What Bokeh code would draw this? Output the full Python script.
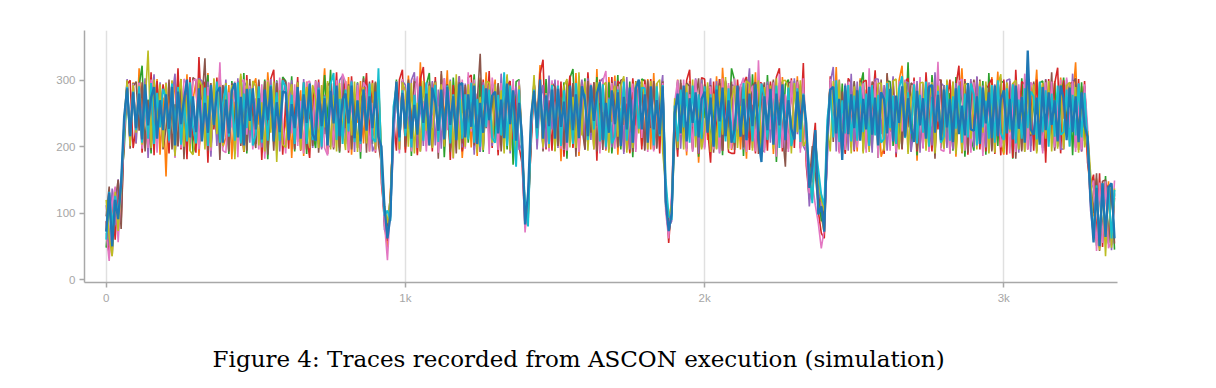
from bokeh.plotting import figure
from bokeh.layouts import column
from bokeh.models import Range1d, FixedTicker, NumeralTickFormatter
from bokeh.core.properties import value
from bokeh.embed import file_html
from bokeh.resources import INLINE

# sample index (one value every 10 samples)
samples = list(range(0, 3380, 10))

trace_orange = [
    75, 130, 52, 120, 70, 140, 215, 300, 205, 297,
    205, 318, 232, 281, 196, 265, 219, 302, 188, 274,
    155, 286, 241, 303, 207, 259, 226, 309, 194, 271,
    297, 186, 262, 224, 311, 203, 279, 237, 316, 199,
    214, 293, 181, 268, 229, 306, 192, 255, 218, 289,
    303, 233, 277, 190, 312, 246, 284, 197, 262, 210,
    236, 296, 183, 271, 207, 285, 186, 298, 242, 260,
    289, 204, 255, 318, 227, 293, 198, 274, 212, 303,
    221, 305, 188, 262, 236, 299, 205, 281, 193, 266,
    297, 230, 165, 82, 48, 131, 238, 296, 210, 301,
    196, 307, 241, 278, 190, 327, 224, 265, 202, 297,
    283, 211, 309, 236, 315, 195, 260, 222, 291, 183,
    247, 293, 199, 276, 186, 304, 233, 312, 208, 258,
    301, 192, 270, 226, 307, 212, 289, 184, 268, 196,
    92, 111, 215, 297, 238, 323, 196, 264, 212, 295,
    221, 299, 178, 280, 244, 292, 200, 311, 186, 253,
    296, 229, 267, 198, 317, 209, 281, 194, 305, 237,
    307, 188, 258, 233, 288, 190, 300, 218, 272, 201,
    232, 302, 196, 311, 214, 275, 240, 128, 84, 112,
    228, 301, 242, 269, 187, 299, 220, 284, 176, 258,
    293, 210, 276, 231, 306, 197, 319, 247, 292, 195,
    215, 286, 196, 263, 182, 306, 237, 312, 209, 279,
    290, 226, 295, 189, 272, 211, 305, 243, 287, 202,
    222, 306, 197, 281, 184, 139, 172, 201, 118, 95,
    70, 204, 298, 228, 320, 197, 270, 202, 298, 236,
    261, 193, 303, 219, 286, 208, 295, 244, 273, 185,
    199, 309, 237, 276, 196, 300, 322, 214, 268, 230,
    295, 179, 282, 247, 291, 205, 304, 193, 259, 226,
    212, 293, 236, 297, 185, 262, 318, 229, 290, 210,
    300, 223, 271, 192, 284, 196, 305, 240, 313, 206,
    188, 277, 221, 296, 213, 264, 195, 301, 234, 294,
    255, 316, 208, 283, 194, 292, 225, 299, 213, 304,
    242, 295, 201, 268, 327, 215, 291, 230, 186, 117,
    95, 152, 48, 140, 64, 148, 56, 128,
]

trace_green = [
    48, 117, 64, 131, 80, 145, 195, 283, 205, 296,
    226, 292, 322, 198, 271, 190, 301, 237, 283, 207,
    287, 214, 262, 185, 304, 231, 276, 201, 293, 189,
    208, 301, 245, 279, 308, 198, 262, 219, 295, 232,
    274, 189, 299, 226, 258, 206, 311, 190, 282, 247,
    204, 290, 235, 301, 181, 267, 216, 300, 243, 305,
    299, 228, 306, 193, 286, 244, 270, 189, 297, 221,
    198, 275, 216, 308, 239, 316, 202, 263, 191, 303,
    268, 209, 293, 240, 297, 182, 306, 225, 284, 204,
    296, 243, 181, 88, 71, 105, 219, 301, 203, 298,
    231, 298, 186, 274, 212, 297, 238, 293, 311, 200,
    298, 223, 302, 184, 269, 198, 304, 245, 280, 195,
    290, 206, 257, 309, 221, 301, 192, 277, 229, 294,
    211, 294, 236, 266, 196, 299, 173, 298, 301, 188,
    97, 84, 222, 299, 218, 276, 197, 302, 232, 289,
    194, 281, 238, 297, 182, 304, 317, 209, 265, 225,
    303, 202, 271, 223, 305, 197, 252, 207, 297, 190,
    237, 308, 196, 279, 214, 298, 184, 296, 233, 302,
    299, 219, 284, 195, 296, 228, 289, 110, 68, 97,
    210, 297, 230, 288, 197, 271, 206, 292, 185, 302,
    243, 291, 204, 262, 197, 302, 187, 299, 221, 318,
    300, 235, 290, 186, 292, 213, 309, 226, 281, 191,
    195, 308, 224, 298, 177, 267, 208, 294, 301, 213,
    299, 241, 291, 206, 199, 152, 128, 224, 141, 88,
    96, 212, 299, 233, 280, 204, 295, 191, 262, 206,
    297, 226, 290, 312, 197, 269, 200, 296, 183, 278,
    234, 299, 298, 201, 276, 199, 287, 221, 327, 193,
    301, 187, 264, 224, 289, 198, 308, 246, 296, 198,
    293, 207, 281, 194, 305, 238, 292, 185, 273, 214,
    194, 301, 242, 299, 188, 311, 222, 279, 201, 297,
    298, 216, 293, 182, 270, 195, 303, 231, 308, 201,
    276, 202, 296, 299, 193, 285, 227, 296, 200, 264,
    304, 235, 296, 187, 294, 220, 297, 209, 203, 131,
    152, 51, 138, 66, 156, 53, 144, 45,
]

trace_red = [
    88, 35, 123, 60, 138, 88, 220, 294, 300, 198,
    229, 293, 191, 264, 206, 312, 187, 299, 238, 294,
    267, 190, 299, 226, 318, 196, 273, 181, 305, 218,
    191, 335, 240, 298, 176, 293, 226, 304, 199, 258,
    296, 214, 281, 190, 299, 243, 192, 308, 226, 271,
    205, 298, 180, 273, 229, 302, 316, 201, 296, 188,
    268, 197, 296, 235, 305, 194, 257, 216, 183, 291,
    228, 301, 198, 270, 189, 296, 241, 312, 199, 277,
    299, 191, 306, 222, 283, 196, 262, 311, 215, 300,
    191, 300, 145, 95, 58, 118, 244, 194, 301, 316,
    191, 278, 226, 303, 187, 302, 320, 233, 294, 193,
    305, 218, 269, 202, 294, 180, 293, 238, 306, 193,
    230, 304, 308, 195, 264, 192, 301, 228, 314, 198,
    279, 187, 298, 241, 292, 299, 211, 274, 200, 174,
    78, 106, 199, 298, 225, 309, 331, 196, 270, 194,
    296, 223, 298, 185, 268, 307, 198, 292, 237, 298,
    196, 312, 243, 297, 179, 301, 222, 276, 196, 305,
    221, 299, 294, 192, 265, 191, 303, 232, 300, 196,
    301, 237, 302, 196, 278, 190, 299, 135, 55, 120,
    245, 185, 296, 221, 300, 316, 197, 301, 189, 304,
    302, 227, 176, 298, 214, 302, 194, 271, 192, 190,
    190, 301, 239, 296, 305, 195, 263, 190, 297, 296,
    271, 194, 298, 226, 305, 318, 193, 276, 197, 303,
    198, 297, 232, 326, 171, 121, 188, 236, 103, 70,
    62, 195, 306, 219, 295, 192, 268, 189, 303, 296,
    193, 274, 218, 298, 300, 199, 257, 315, 227, 293,
    189, 301, 224, 297, 184, 268, 196, 298, 303, 229,
    304, 193, 271, 198, 312, 243, 193, 301, 226, 301,
    198, 267, 301, 219, 291, 322, 190, 302, 188, 298,
    226, 305, 196, 281, 193, 294, 302, 189, 268, 187,
    301, 188, 299, 183, 316, 228, 298, 294, 196, 277,
    194, 301, 237, 296, 176, 302, 216, 295, 319, 190,
    300, 222, 295, 297, 198, 302, 193, 299, 176, 142,
    158, 58, 160, 49, 145, 137, 52, 123,
]

trace_purple = [
    112, 51, 137, 82, 151, 98, 236, 302, 209, 293,
    205, 297, 234, 303, 183, 270, 309, 198, 297, 224,
    291, 206, 275, 310, 200, 293, 236, 299, 204, 266,
    209, 303, 299, 228, 298, 185, 276, 201, 305, 233,
    301, 198, 257, 200, 303, 227, 298, 291, 206, 296,
    213, 296, 199, 264, 197, 302, 240, 299, 193, 275,
    298, 231, 300, 197, 265, 199, 302, 223, 292, 198,
    246, 297, 196, 278, 201, 200, 296, 229, 300, 307,
    204, 279, 300, 192, 296, 215, 299, 209, 266, 193,
    204, 298, 188, 75, 66, 98, 201, 294, 197, 299,
    293, 226, 300, 312, 198, 269, 201, 295, 227, 299,
    202, 286, 197, 303, 238, 301, 191, 272, 306, 199,
    295, 219, 297, 188, 280, 192, 297, 248, 293, 201,
    294, 203, 310, 228, 301, 190, 266, 291, 195, 205,
    88, 119, 230, 299, 196, 268, 293, 199, 307, 226,
    301, 198, 272, 195, 298, 233, 294, 199, 260, 301,
    195, 303, 210, 294, 231, 297, 303, 196, 274, 199,
    299, 227, 298, 189, 305, 196, 271, 196, 299, 294,
    196, 297, 231, 294, 199, 274, 308, 116, 79, 88,
    232, 300, 197, 279, 198, 295, 230, 303, 190, 301,
    199, 276, 303, 201, 299, 190, 261, 300, 198, 293,
    292, 215, 294, 196, 268, 318, 198, 297, 230, 295,
    198, 298, 206, 293, 226, 296, 296, 192, 270, 200,
    303, 219, 294, 201, 192, 110, 165, 178, 132, 109,
    85, 178, 296, 320, 193, 301, 226, 295, 194, 310,
    195, 298, 234, 296, 199, 268, 191, 302, 302, 219,
    293, 194, 258, 306, 190, 293, 226, 295, 297, 192,
    228, 299, 191, 295, 217, 297, 202, 312, 238, 296,
    291, 198, 269, 196, 296, 233, 301, 198, 247, 302,
    199, 306, 230, 292, 199, 276, 195, 294, 218, 303,
    198, 300, 302, 225, 299, 191, 272, 193, 296, 192,
    296, 199, 267, 194, 302, 233, 299, 198, 281, 196,
    197, 301, 224, 310, 200, 296, 193, 268, 199, 104,
    64, 149, 52, 147, 61, 137, 44, 130,
]

trace_brown = [
    95, 140, 36, 118, 150, 76, 228, 299, 197, 291,
    298, 224, 297, 193, 270, 195, 296, 233, 292, 196,
    228, 301, 196, 264, 201, 302, 181, 297, 237, 304,
    300, 196, 268, 333, 194, 296, 229, 290, 180, 293,
    266, 193, 296, 219, 296, 201, 262, 194, 302, 223,
    198, 301, 229, 299, 188, 275, 194, 296, 220, 302,
    297, 213, 274, 196, 298, 227, 297, 196, 261, 201,
    300, 191, 265, 219, 296, 290, 196, 277, 193, 295,
    228, 294, 196, 279, 198, 265, 303, 191, 298, 217,
    298, 202, 176, 104, 80, 126, 232, 293, 195, 299,
    200, 301, 227, 298, 295, 193, 266, 201, 298, 228,
    299, 182, 314, 230, 294, 192, 276, 190, 297, 205,
    293, 227, 294, 202, 266, 340, 200, 296, 218, 291,
    231, 296, 193, 262, 305, 199, 291, 219, 298, 210,
    102, 92, 207, 292, 230, 299, 193, 274, 201, 296,
    290, 201, 275, 197, 299, 222, 296, 185, 306, 231,
    196, 299, 221, 297, 193, 266, 195, 292, 223, 297,
    263, 199, 300, 302, 196, 275, 192, 299, 227, 296,
    194, 300, 228, 299, 197, 262, 298, 124, 88, 101,
    254, 195, 301, 226, 296, 291, 194, 270, 303, 199,
    294, 222, 293, 191, 264, 296, 194, 297, 229, 298,
    195, 276, 291, 199, 302, 223, 292, 297, 189, 275,
    297, 215, 269, 301, 199, 292, 223, 170, 296, 298,
    225, 300, 198, 290, 205, 145, 201, 158, 111, 128,
    92, 221, 296, 207, 291, 195, 283, 226, 300, 199,
    299, 226, 300, 193, 265, 196, 298, 292, 219, 301,
    198, 311, 222, 299, 195, 264, 197, 300, 229, 296,
    292, 195, 277, 200, 296, 224, 295, 182, 301, 300,
    215, 299, 190, 272, 192, 297, 226, 299, 191, 268,
    301, 222, 301, 197, 293, 288, 193, 269, 224, 295,
    197, 296, 226, 296, 182, 275, 193, 297, 289, 216,
    298, 193, 269, 198, 301, 226, 312, 194, 277, 290,
    199, 293, 226, 296, 303, 195, 268, 291, 212, 150,
    100, 160, 43, 148, 150, 55, 141, 54,
]

trace_pink = [
    70, 28, 116, 140, 56, 135, 213, 292, 204, 295,
    230, 296, 197, 269, 198, 301, 288, 191, 279, 201,
    297, 221, 299, 183, 276, 198, 302, 293, 216, 299,
    302, 196, 271, 215, 290, 194, 302, 227, 327, 194,
    191, 282, 229, 298, 184, 296, 301, 218, 292, 196,
    273, 196, 294, 182, 300, 227, 296, 194, 304, 237,
    190, 297, 220, 294, 201, 269, 190, 296, 299, 215,
    299, 226, 292, 198, 187, 276, 199, 300, 228, 310,
    297, 194, 270, 215, 293, 192, 297, 289, 193, 266,
    193, 295, 158, 86, 29, 113, 210, 299, 190, 302,
    221, 296, 193, 277, 306, 196, 269, 193, 291, 228,
    296, 191, 279, 303, 225, 294, 182, 298, 214, 301,
    197, 312, 223, 301, 198, 273, 198, 296, 189, 304,
    269, 195, 296, 222, 298, 196, 302, 184, 300, 182,
    71, 125, 218, 296, 228, 294, 197, 281, 193, 300,
    225, 300, 197, 268, 194, 291, 228, 296, 192, 273,
    298, 216, 295, 196, 272, 190, 299, 314, 210, 296,
    197, 291, 226, 298, 196, 269, 295, 192, 286, 213,
    294, 192, 268, 193, 296, 220, 296, 102, 62, 131,
    267, 300, 218, 301, 193, 279, 192, 301, 228, 295,
    196, 289, 290, 196, 268, 191, 303, 220, 296, 197,
    303, 226, 291, 304, 192, 277, 292, 193, 330, 218,
    191, 293, 226, 297, 185, 310, 198, 279, 192, 300,
    220, 298, 191, 303, 185, 130, 146, 112, 85, 47,
    76, 187, 302, 221, 296, 190, 267, 195, 298, 221,
    290, 199, 266, 295, 191, 318, 224, 298, 183, 295,
    227, 293, 194, 278, 192, 299, 223, 301, 192, 270,
    299, 216, 305, 197, 280, 192, 297, 229, 328, 195,
    193, 276, 190, 298, 221, 298, 302, 194, 270, 191,
    297, 220, 299, 186, 278, 191, 293, 226, 294, 199,
    225, 293, 190, 266, 192, 294, 219, 310, 196, 297,
    291, 197, 274, 190, 297, 221, 298, 199, 266, 301,
    196, 304, 228, 299, 192, 270, 196, 294, 230, 135,
    149, 43, 146, 55, 148, 47, 59, 149,
]

trace_olive = [
    120, 64, 35, 132, 73, 138, 240, 300, 201, 293,
    221, 292, 203, 264, 345, 198, 301, 226, 294, 199,
    296, 215, 300, 186, 269, 302, 200, 278, 194, 188,
    226, 301, 292, 196, 277, 199, 303, 219, 292, 201,
    296, 219, 293, 181, 271, 310, 193, 300, 225, 299,
    291, 202, 267, 193, 298, 221, 298, 177, 285, 203,
    199, 276, 294, 208, 297, 195, 262, 290, 198, 293,
    271, 198, 293, 229, 299, 196, 278, 193, 296, 230,
    195, 292, 217, 298, 192, 276, 290, 205, 271, 296,
    196, 301, 195, 112, 85, 124, 243, 298, 196, 297,
    284, 200, 296, 190, 266, 193, 299, 224, 292, 198,
    297, 213, 294, 200, 275, 299, 183, 309, 196, 272,
    200, 294, 227, 295, 191, 275, 195, 298, 297, 206,
    294, 226, 285, 190, 309, 194, 269, 191, 292, 201,
    110, 96, 240, 308, 212, 297, 199, 280, 198, 294,
    193, 279, 224, 291, 302, 199, 275, 198, 312, 217,
    298, 194, 269, 196, 297, 222, 292, 297, 191, 276,
    292, 215, 291, 306, 191, 273, 198, 298, 220, 300,
    273, 196, 299, 218, 295, 301, 192, 140, 93, 114,
    273, 198, 278, 196, 294, 222, 301, 199, 267, 196,
    225, 297, 192, 280, 196, 292, 218, 305, 196, 271,
    292, 198, 261, 218, 299, 295, 194, 276, 300, 196,
    290, 214, 292, 197, 303, 221, 299, 300, 288, 190,
    296, 222, 300, 201, 210, 158, 120, 196, 150, 120,
    103, 230, 193, 299, 221, 300, 198, 272, 287, 190,
    291, 221, 297, 190, 272, 192, 291, 227, 295, 296,
    194, 298, 225, 299, 302, 196, 261, 297, 189, 273,
    293, 210, 296, 297, 194, 271, 297, 190, 292, 229,
    197, 301, 228, 298, 189, 276, 191, 294, 295, 212,
    275, 196, 299, 221, 298, 190, 278, 191, 293, 309,
    191, 297, 223, 295, 300, 196, 268, 192, 293, 219,
    294, 190, 261, 296, 212, 299, 193, 270, 197, 294,
    196, 292, 297, 223, 290, 191, 275, 199, 224, 160,
    60, 131, 44, 142, 35, 139, 48, 137,
]

trace_cyan = [
    60, 132, 80, 126, 98, 144, 232, 290, 216, 283,
    225, 291, 206, 276, 212, 296, 204, 281, 229, 287,
    274, 209, 295, 227, 290, 203, 271, 208, 297, 230,
    205, 280, 216, 289, 201, 286, 234, 298, 206, 265,
    292, 215, 272, 209, 297, 205, 280, 228, 287, 202,
    218, 291, 206, 267, 209, 293, 234, 282, 209, 300,
    290, 221, 278, 204, 289, 229, 297, 204, 277, 210,
    230, 289, 200, 276, 216, 294, 311, 210, 272, 204,
    286, 223, 298, 207, 269, 204, 286, 228, 295, 213,
    207, 318, 170, 96, 104, 88, 260, 290, 208, 285,
    216, 286, 199, 278, 222, 289, 209, 297, 211, 270,
    293, 207, 271, 217, 292, 205, 279, 226, 291, 212,
    279, 211, 296, 206, 272, 200, 293, 229, 286, 213,
    206, 278, 217, 312, 201, 292, 230, 170, 286, 188,
    118, 80, 232, 286, 212, 290, 219, 278, 204, 293,
    227, 292, 201, 285, 216, 272, 204, 296, 228, 282,
    278, 210, 293, 226, 280, 208, 294, 200, 272, 205,
    215, 286, 232, 298, 209, 273, 206, 290, 227, 289,
    288, 220, 270, 202, 291, 216, 293, 150, 96, 90,
    262, 208, 286, 229, 282, 206, 292, 216, 279, 212,
    291, 225, 279, 203, 292, 214, 269, 208, 288, 226,
    206, 281, 219, 296, 210, 274, 208, 286, 223, 295,
    274, 210, 286, 224, 292, 198, 281, 216, 289, 201,
    223, 288, 207, 280, 220, 168, 115, 204, 166, 128,
    112, 240, 286, 214, 300, 207, 270, 220, 293, 208,
    277, 209, 291, 222, 280, 201, 293, 217, 278, 206,
    212, 296, 228, 277, 204, 288, 306, 213, 282, 220,
    294, 205, 278, 221, 298, 200, 275, 229, 284, 206,
    216, 293, 209, 276, 227, 292, 206, 280, 214, 295,
    279, 202, 291, 229, 269, 212, 293, 206, 300, 220,
    210, 288, 226, 294, 205, 271, 212, 288, 228, 283,
    276, 211, 298, 222, 285, 200, 280, 215, 292, 218,
    222, 286, 200, 278, 217, 295, 214, 281, 208, 124,
    65, 142, 58, 145, 67, 140, 62, 135,
]

trace_blue = [
    72, 131, 50, 120, 91, 146, 245, 288, 216, 282,
    228, 280, 211, 294, 232, 274, 290, 212, 270, 225,
    279, 227, 290, 202, 283, 234, 271, 301, 214, 276,
    222, 288, 208, 266, 221, 293, 233, 282, 290, 206,
    271, 220, 284, 296, 214, 275, 202, 287, 239, 288,
    226, 273, 211, 286, 240, 291, 208, 267, 222, 283,
    282, 210, 264, 228, 290, 212, 279, 236, 295, 219,
    209, 286, 231, 273, 202, 284, 235, 292, 216, 271,
    280, 235, 292, 213, 270, 208, 286, 224, 276, 228,
    283, 215, 200, 110, 62, 96, 236, 298, 214, 281,
    227, 296, 212, 263, 218, 291, 236, 280, 202, 289,
    267, 224, 286, 211, 290, 233, 276, 210, 293, 296,
    214, 279, 230, 292, 204, 266, 221, 288, 240, 277,
    283, 220, 271, 213, 295, 234, 285, 209, 266, 215,
    83, 130, 246, 284, 228, 301, 212, 277, 231, 286,
    212, 287, 230, 268, 206, 292, 225, 279, 213, 291,
    270, 216, 292, 239, 280, 297, 210, 266, 221, 285,
    234, 282, 201, 275, 226, 289, 206, 288, 301, 226,
    279, 206, 291, 226, 270, 219, 291, 118, 73, 100,
    250, 280, 220, 292, 208, 273, 236, 282, 214, 272,
    283, 221, 274, 200, 286, 238, 289, 216, 270, 206,
    225, 292, 215, 272, 210, 280, 231, 294, 211, 177,
    276, 225, 287, 203, 280, 232, 294, 210, 270, 227,
    211, 283, 226, 278, 235, 138, 170, 225, 98, 110,
    72, 215, 286, 290, 220, 272, 180, 292, 219, 279,
    228, 285, 209, 272, 226, 290, 218, 274, 202, 282,
    271, 220, 287, 208, 277, 236, 291, 215, 273, 229,
    207, 284, 232, 273, 212, 290, 293, 221, 278, 210,
    286, 229, 272, 207, 288, 219, 262, 217, 296, 226,
    224, 276, 204, 289, 235, 282, 213, 292, 216, 271,
    285, 220, 272, 211, 292, 227, 275, 206, 345, 226,
    218, 274, 203, 290, 225, 282, 233, 270, 208, 292,
    273, 210, 289, 222, 276, 207, 282, 231, 215, 120,
    56, 138, 50, 145, 64, 139, 145, 62,
]

x_ticks = [0, 1000, 2000, 3000]
y_ticks = [0, 100, 200, 300]
caption = "Figure 4: Traces recorded from ASCON execution (simulation)"

traces = [
    (trace_orange, "#ff7f0e", 1.6),
    (trace_green, "#2ca02c", 1.6),
    (trace_red, "#d62728", 1.6),
    (trace_purple, "#9467bd", 1.6),
    (trace_brown, "#8c564b", 1.6),
    (trace_pink, "#e377c2", 1.6),
    (trace_olive, "#bcbd22", 1.6),
    (trace_cyan, "#17becf", 1.9),
    (trace_blue, "#1f77b4", 2.3),
]

p = figure(
    width=1200, height=310,
    output_backend="svg", toolbar_location=None,
    x_range=Range1d(-72.5, 3380), y_range=Range1d(-4.5, 375),
    min_border_left=84, min_border_right=83,
    min_border_top=30, min_border_bottom=28,
)
p.outline_line_color = None
p.background_fill_color = "white"
p.border_fill_color = "white"

for vals, col, lw in traces:
    n = min(len(vals), len(samples))
    p.line(samples[:n], vals[:n], line_color=col, line_width=lw)

for ax in (p.xaxis[0], p.yaxis[0]):
    ax.axis_line_color = "#a8a8a8"
    ax.axis_line_width = 1.5
    ax.major_tick_line_color = "#a8a8a8"
    ax.major_tick_line_width = 1.5
    ax.major_tick_in = 0
    ax.major_tick_out = 5
    ax.minor_tick_line_color = None
    ax.major_label_text_color = "#a6a6a6"
    ax.major_label_text_font = "Liberation Sans"
    ax.major_label_text_font_size = "11.5px"
    ax.major_label_standoff = 4

p.xaxis.ticker = FixedTicker(ticks=x_ticks)
p.yaxis.ticker = FixedTicker(ticks=y_ticks)
p.xaxis.formatter = NumeralTickFormatter(format="0a")

p.xgrid.ticker = FixedTicker(ticks=x_ticks)
p.xgrid.grid_line_color = "#e0e0e0"
p.xgrid.grid_line_width = 1.5
p.ygrid.grid_line_color = None

# caption strip below the chart
cap = figure(
    width=1200, height=70,
    output_backend="svg", toolbar_location=None,
    x_range=Range1d(0, 1200), y_range=Range1d(0, 70),
    x_axis_type=None, y_axis_type=None,
    min_border_left=0, min_border_right=0, min_border_top=0, min_border_bottom=0,
)
cap.outline_line_color = None
cap.grid.visible = False
cap.text(
    x=[574], y=[22], text=[caption],
    text_align="center", text_baseline="alphabetic",
    text_font=value("DejaVu Serif"), text_font_size="23px", text_color="black",
)

layout = column(p, cap, spacing=0)
open("out.html", "w").write(file_html(layout, INLINE))
